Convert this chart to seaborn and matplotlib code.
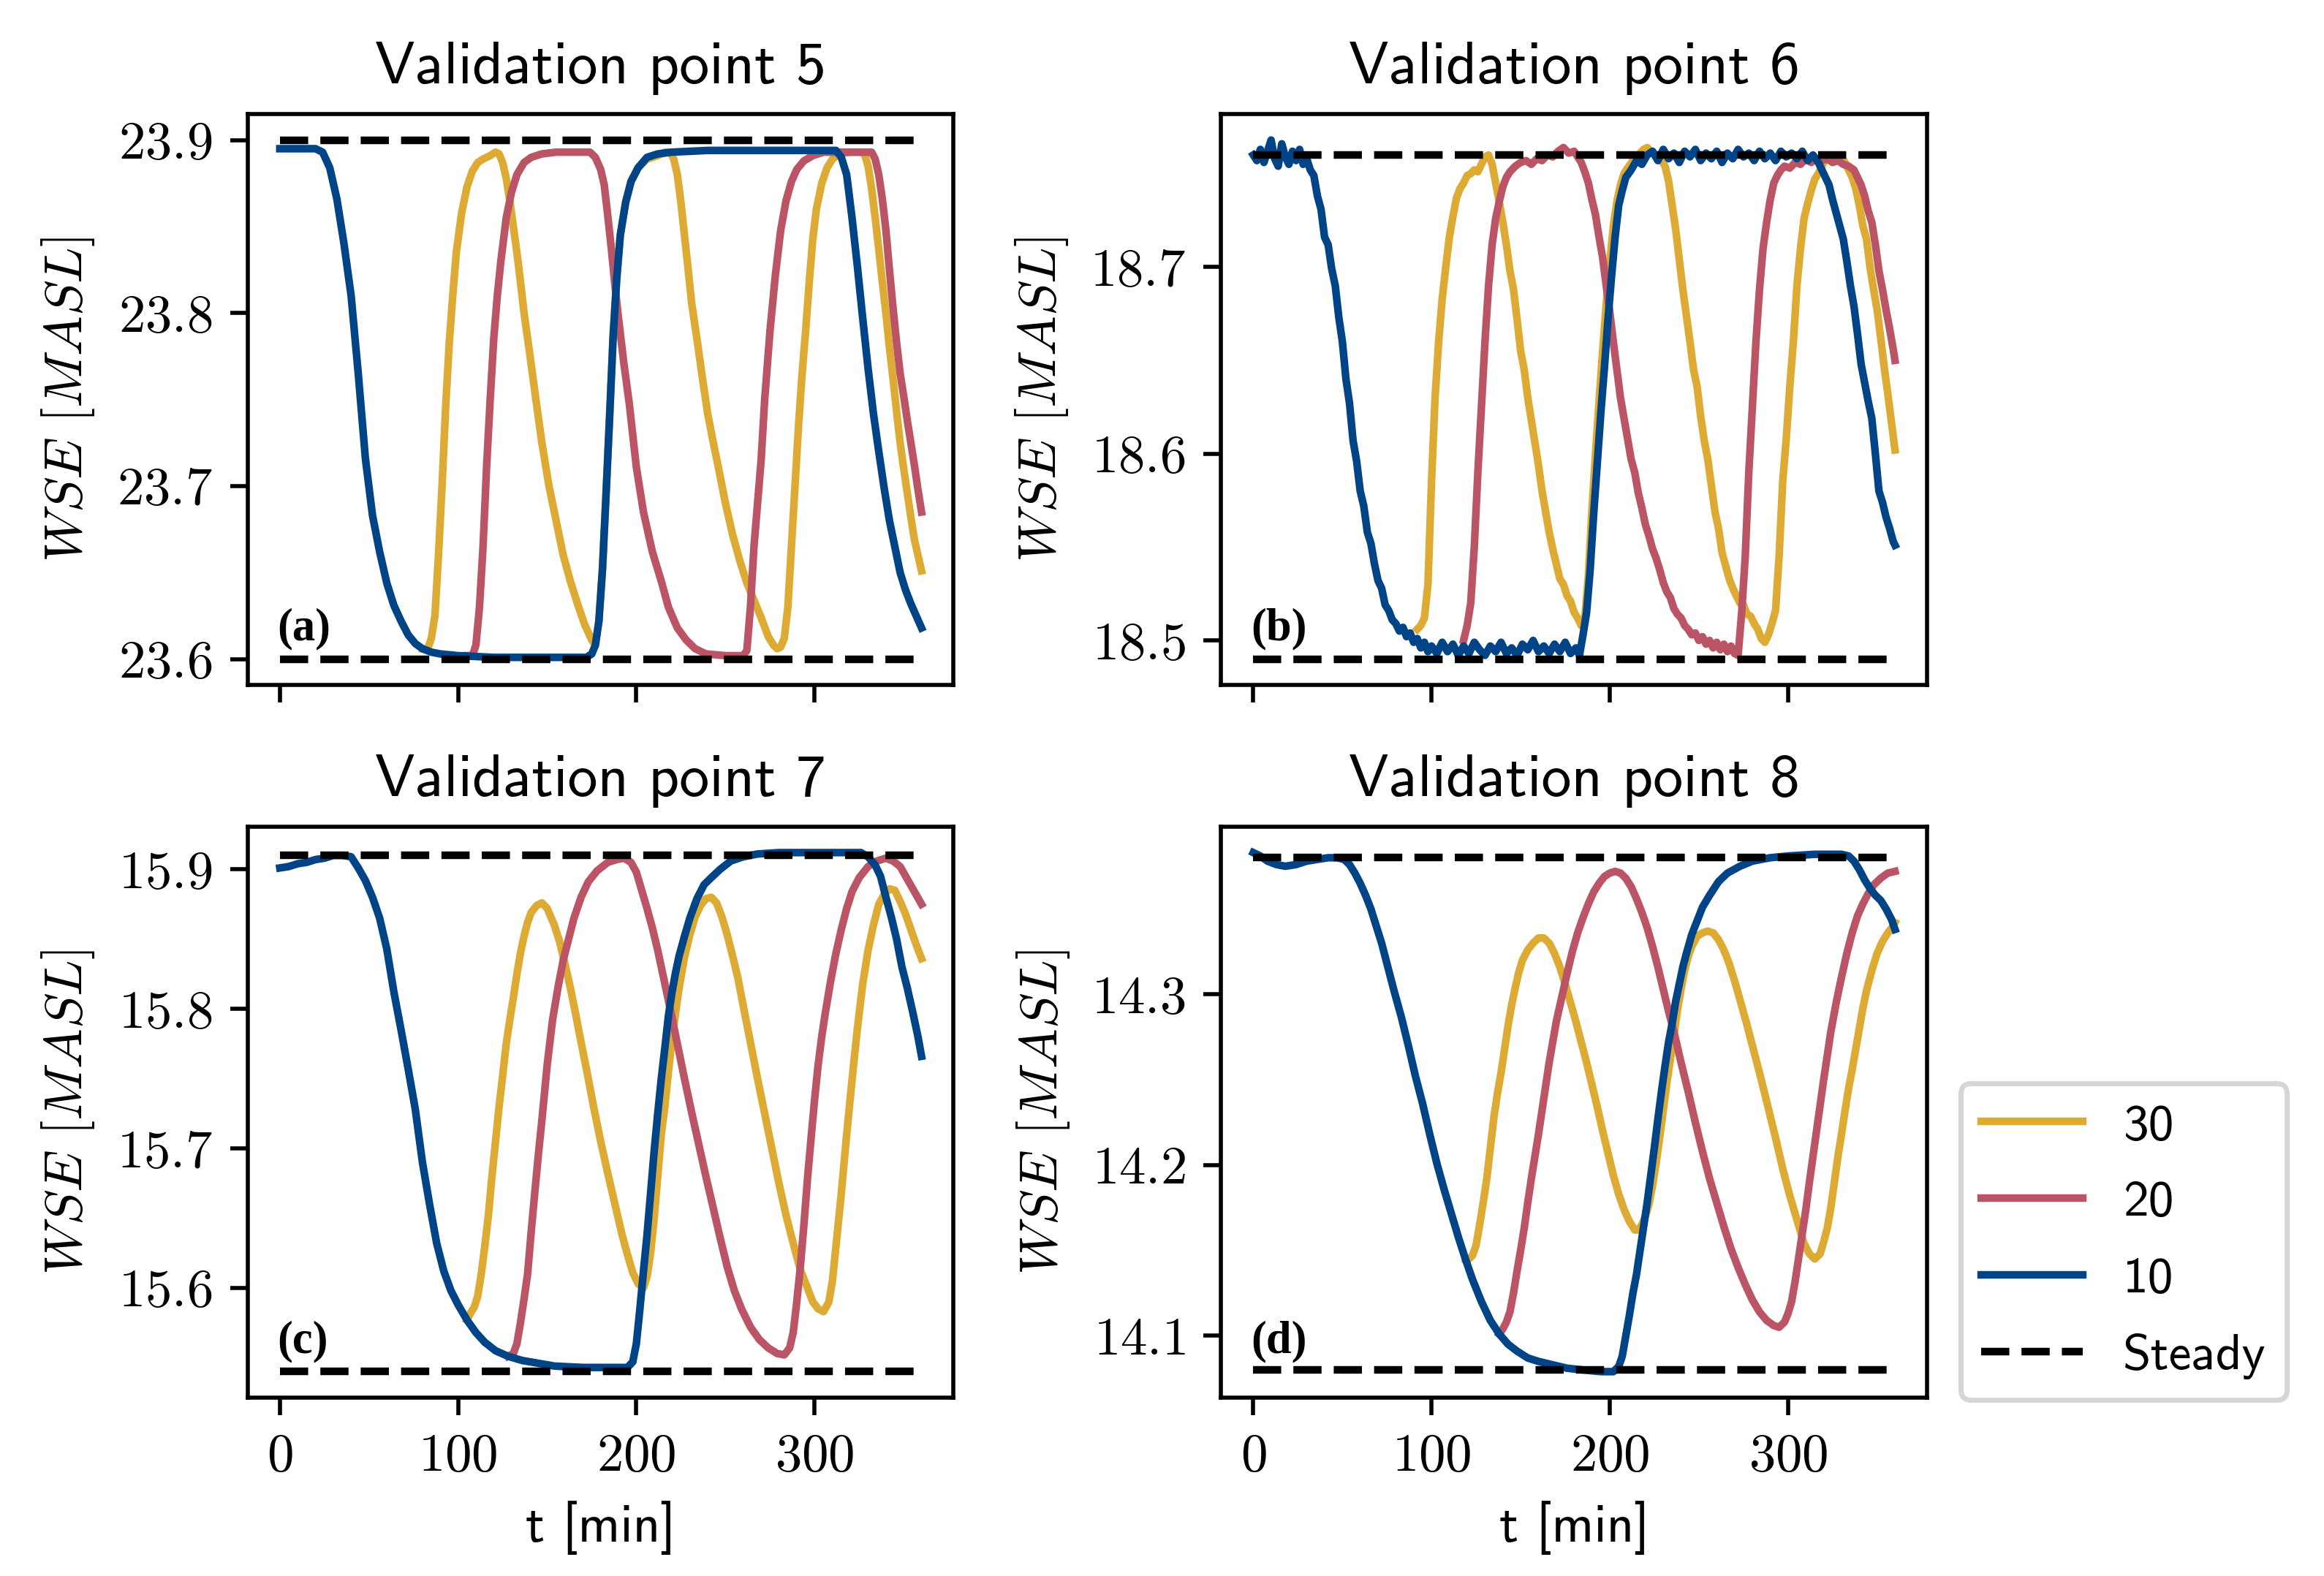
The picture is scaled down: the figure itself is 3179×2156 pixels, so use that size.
import pandas as pd
import seaborn as sns
import matplotlib
matplotlib.use('Agg')
import matplotlib.pyplot as plt
from matplotlib.lines import Line2D
from matplotlib.ticker import MultipleLocator, FuncFormatter

# -----------------------------------------------------------------------------
# Data (t in min, WSE in m above sea level)
# -----------------------------------------------------------------------------
# Validation point 5
a10_t = [0, 10, 20, 24, 28, 32, 36, 40, 44, 48, 52, 56, 60, 64, 68, 72, 76, 80, 85, 90, 100, 120, 150, 172,
         175, 177, 179, 181, 183, 185, 187, 189, 191, 194, 197, 201, 206, 212, 220, 240, 280, 312, 315, 318,
         321, 324, 327, 330, 333, 336, 339, 342, 345, 348, 351, 354, 357, 360]
a10_wse = [23.895, 23.895, 23.895, 23.893, 23.884, 23.866, 23.840, 23.810, 23.765, 23.716, 23.683, 23.662,
           23.644, 23.631, 23.622, 23.614, 23.609, 23.606, 23.604, 23.603, 23.602, 23.601, 23.601, 23.601,
           23.603, 23.608, 23.622, 23.652, 23.695, 23.740, 23.787, 23.820, 23.845, 23.864, 23.876, 23.884,
           23.890, 23.892, 23.893, 23.894, 23.894, 23.894, 23.890, 23.880, 23.855, 23.827, 23.797, 23.768,
           23.742, 23.720, 23.699, 23.680, 23.665, 23.650, 23.640, 23.632, 23.625, 23.618]
a30_t = [80, 83, 85, 87, 89, 91, 93, 95, 97, 99, 102, 105, 108, 111, 114, 118, 121, 123, 125, 127, 129, 131,
         133, 135, 137, 140, 143, 147, 151, 155, 159, 163, 167, 171, 175, 177, 179, 181, 183, 185, 187, 189,
         191, 194, 197, 201, 206, 212, 216, 219, 221, 223, 225, 227, 229, 231, 234, 237, 240, 243, 246, 250,
         254, 258, 262, 266, 270, 274, 277, 279, 281, 283, 285, 287, 289, 291, 293, 295, 297, 299, 301, 304,
         307, 310, 314, 320, 326, 328, 330, 332, 334, 336, 338, 340, 342, 344, 346, 348, 350, 352, 354, 356,
         358, 360]
a30_wse = [23.606, 23.606, 23.612, 23.625, 23.660, 23.700, 23.745, 23.782, 23.810, 23.835, 23.858, 23.873,
           23.882, 23.887, 23.889, 23.891, 23.893, 23.892, 23.887, 23.878, 23.865, 23.850, 23.835, 23.818,
           23.800, 23.778, 23.755, 23.725, 23.700, 23.680, 23.660, 23.645, 23.632, 23.620, 23.611, 23.608,
           23.622, 23.652, 23.695, 23.740, 23.787, 23.820, 23.845, 23.864, 23.876, 23.884, 23.889, 23.891,
           23.893, 23.893, 23.889, 23.880, 23.864, 23.845, 23.826, 23.806, 23.785, 23.763, 23.742, 23.726,
           23.711, 23.690, 23.672, 23.657, 23.644, 23.634, 23.624, 23.613, 23.608, 23.606, 23.607, 23.612,
           23.630, 23.665, 23.700, 23.735, 23.765, 23.790, 23.818, 23.843, 23.860, 23.875, 23.884, 23.889,
           23.892, 23.893, 23.893, 23.892, 23.885, 23.872, 23.855, 23.837, 23.818, 23.800, 23.780, 23.762,
           23.743, 23.725, 23.710, 23.696, 23.682, 23.669, 23.660, 23.651]
a20_t = [105, 108, 110, 112, 114, 116, 118, 120, 122, 124, 127, 130, 133, 137, 141, 147, 155, 165, 174, 177,
         180, 182, 184, 186, 188, 190, 193, 196, 200, 204, 209, 214, 218, 223, 228, 233, 239, 250, 260, 262,
         264, 266, 268, 270, 272, 275, 278, 281, 284, 287, 290, 294, 299, 305, 320, 332, 334, 336, 338, 340,
         342, 344, 346, 348, 350, 352, 354, 356, 358, 360]
a20_wse = [23.602, 23.602, 23.608, 23.630, 23.665, 23.711, 23.750, 23.785, 23.810, 23.830, 23.855, 23.870,
           23.880, 23.887, 23.890, 23.892, 23.893, 23.893, 23.893, 23.890, 23.883, 23.874, 23.856, 23.837,
           23.816, 23.797, 23.771, 23.748, 23.711, 23.685, 23.662, 23.645, 23.630, 23.618, 23.611, 23.606,
           23.603, 23.602, 23.602, 23.605, 23.630, 23.665, 23.690, 23.715, 23.750, 23.790, 23.822, 23.848,
           23.865, 23.876, 23.883, 23.888, 23.891, 23.893, 23.893, 23.893, 23.889, 23.880, 23.866, 23.848,
           23.825, 23.803, 23.783, 23.765, 23.752, 23.738, 23.725, 23.712, 23.698, 23.685]
steady_a = [23.9, 23.6]

# Validation point 6
b10_t = [0, 2, 4, 6, 8, 10, 12, 14, 16, 18, 20, 22, 24, 26, 28, 30, 32, 34, 36, 38, 40, 42, 44, 46, 48, 50,
         52, 54, 56, 58, 60, 62, 64, 66, 68, 70, 72, 74, 76, 78, 80, 82, 84, 86, 88, 90, 92, 94, 96, 98, 100,
         103, 106, 109, 112, 115, 118, 121, 124, 127, 130, 133, 136, 139, 142, 145, 148, 151, 154, 157, 160,
         163, 166, 169, 172, 175, 178, 181, 183, 185, 187, 189, 191, 193, 195, 197, 199, 201, 203, 205, 207,
         209, 212, 215, 218, 221, 224, 227, 230, 233, 236, 239, 242, 245, 248, 251, 254, 257, 260, 263, 266,
         269, 272, 275, 278, 281, 284, 287, 290, 293, 296, 299, 302, 305, 308, 311, 314, 317, 319, 321, 323,
         325, 327, 329, 331, 333, 335, 337, 339, 341, 343, 345, 347, 349, 351, 353, 355, 357, 359, 360]
b10_wse = [18.760, 18.757, 18.763, 18.756, 18.762, 18.768, 18.758, 18.754, 18.766, 18.759, 18.755, 18.762,
           18.757, 18.763, 18.755, 18.758, 18.752, 18.749, 18.738, 18.731, 18.716, 18.712, 18.699, 18.690,
           18.673, 18.660, 18.640, 18.627, 18.607, 18.596, 18.580, 18.572, 18.558, 18.552, 18.541, 18.532,
           18.528, 18.519, 18.516, 18.511, 18.509, 18.505, 18.507, 18.502, 18.504, 18.499, 18.501, 18.496,
           18.499, 18.494, 18.497, 18.493, 18.499, 18.494, 18.498, 18.492, 18.497, 18.493, 18.499, 18.495,
           18.492, 18.497, 18.494, 18.499, 18.493, 18.496, 18.492, 18.498, 18.495, 18.500, 18.494, 18.497,
           18.493, 18.498, 18.494, 18.499, 18.493, 18.496, 18.492, 18.503, 18.515, 18.538, 18.568, 18.595,
           18.622, 18.646, 18.672, 18.695, 18.716, 18.733, 18.741, 18.748, 18.752, 18.757, 18.755, 18.760,
           18.762, 18.757, 18.763, 18.758, 18.761, 18.756, 18.762, 18.759, 18.763, 18.757, 18.761, 18.758,
           18.762, 18.756, 18.761, 18.758, 18.763, 18.759, 18.761, 18.757, 18.762, 18.758, 18.761, 18.757,
           18.762, 18.759, 18.761, 18.758, 18.762, 18.757, 18.760, 18.756, 18.752, 18.748, 18.744, 18.736,
           18.729, 18.722, 18.715, 18.703, 18.690, 18.679, 18.664, 18.648, 18.638, 18.628, 18.619, 18.600,
           18.580, 18.574, 18.566, 18.560, 18.553, 18.551]
b30_t = [92, 94, 96, 98, 100, 102, 104, 106, 108, 110, 112, 114, 116, 118, 120, 122, 124, 126, 128, 130, 132,
         134, 136, 138, 140, 142, 144, 146, 148, 150, 152, 154, 156, 158, 160, 162, 164, 166, 168, 170, 172,
         174, 176, 178, 180, 182, 184, 186, 188, 190, 192, 194, 196, 198, 200, 202, 204, 206, 208, 210, 213,
         216, 219, 221, 223, 225, 227, 229, 231, 233, 235, 237, 239, 241, 243, 245, 247, 249, 251, 253, 255,
         257, 259, 261, 263, 265, 267, 269, 271, 273, 275, 277, 279, 281, 283, 285, 287, 289, 291, 293, 295,
         297, 299, 301, 303, 305, 307, 309, 311, 313, 315, 317, 320, 323, 326, 329, 332, 334, 336, 338, 340,
         342, 344, 346, 348, 350, 352, 354, 356, 358, 360]
b30_wse = [18.506, 18.508, 18.512, 18.530, 18.585, 18.630, 18.660, 18.683, 18.700, 18.716, 18.727, 18.737,
           18.742, 18.745, 18.749, 18.750, 18.752, 18.751, 18.755, 18.759, 18.760, 18.755, 18.745, 18.735,
           18.724, 18.712, 18.698, 18.688, 18.672, 18.655, 18.645, 18.630, 18.618, 18.606, 18.594, 18.580,
           18.569, 18.558, 18.549, 18.541, 18.533, 18.530, 18.524, 18.521, 18.515, 18.512, 18.508, 18.512,
           18.535, 18.570, 18.600, 18.628, 18.655, 18.680, 18.702, 18.722, 18.735, 18.744, 18.750, 18.753,
           18.757, 18.760, 18.763, 18.764, 18.762, 18.760, 18.759, 18.757, 18.754, 18.746, 18.733, 18.720,
           18.704, 18.688, 18.674, 18.660, 18.645, 18.636, 18.620, 18.607, 18.597, 18.583, 18.569, 18.560,
           18.547, 18.540, 18.533, 18.528, 18.524, 18.520, 18.519, 18.514, 18.513, 18.509, 18.506, 18.501,
           18.499, 18.503, 18.509, 18.516, 18.545, 18.585, 18.608, 18.636, 18.660, 18.690, 18.710, 18.726,
           18.734, 18.741, 18.747, 18.750, 18.756, 18.759, 18.758, 18.760, 18.756, 18.752, 18.748, 18.742,
           18.733, 18.722, 18.715, 18.700, 18.688, 18.677, 18.662, 18.646, 18.632, 18.617, 18.602]
b20_t = [118, 120, 122, 124, 126, 128, 130, 132, 134, 136, 138, 140, 142, 144, 147, 150, 153, 156, 159, 162,
         165, 168, 171, 174, 177, 180, 182, 184, 186, 188, 190, 192, 194, 196, 198, 200, 202, 204, 206, 208,
         210, 212, 214, 216, 218, 220, 222, 224, 226, 228, 230, 232, 234, 236, 238, 240, 242, 244, 246, 248,
         250, 252, 254, 256, 258, 260, 262, 264, 266, 268, 270, 272, 274, 276, 278, 280, 282, 284, 286, 288,
         290, 292, 294, 296, 298, 301, 304, 307, 310, 313, 316, 319, 322, 325, 328, 331, 334, 337, 339, 341,
         343, 345, 347, 349, 351, 353, 355, 357, 359, 360]
b20_wse = [18.500, 18.508, 18.520, 18.550, 18.590, 18.625, 18.660, 18.690, 18.712, 18.726, 18.735, 18.743,
           18.748, 18.751, 18.754, 18.756, 18.757, 18.755, 18.758, 18.757, 18.760, 18.759, 18.762, 18.764,
           18.761, 18.762, 18.759, 18.756, 18.751, 18.745, 18.736, 18.728, 18.716, 18.705, 18.690, 18.676,
           18.660, 18.645, 18.630, 18.619, 18.608, 18.597, 18.590, 18.579, 18.571, 18.562, 18.556, 18.549,
           18.544, 18.538, 18.531, 18.526, 18.523, 18.517, 18.514, 18.512, 18.508, 18.506, 18.503, 18.504,
           18.500, 18.502, 18.498, 18.500, 18.496, 18.499, 18.495, 18.498, 18.494, 18.497, 18.493, 18.492,
           18.515, 18.545, 18.590, 18.625, 18.660, 18.688, 18.710, 18.724, 18.736, 18.745, 18.749, 18.752,
           18.754, 18.753, 18.756, 18.755, 18.758, 18.756, 18.758, 18.757, 18.758, 18.756, 18.757, 18.755,
           18.754, 18.752, 18.748, 18.744, 18.738, 18.730, 18.724, 18.712, 18.698, 18.688, 18.677, 18.667,
           18.656, 18.650]
steady_b = [18.76, 18.49]

# Validation point 7
c10_t = [0, 5, 10, 15, 20, 25, 30, 35, 40, 44, 48, 52, 56, 60, 64, 68, 72, 76, 80, 84, 88, 92, 96, 100, 105,
         110, 115, 121, 128, 136, 145, 154, 170, 185, 195, 198, 200, 202, 204, 206, 208, 210, 212, 214, 216,
         218, 220, 222, 224, 227, 230, 234, 238, 242, 247, 253, 260, 268, 280, 300, 319, 326, 330, 334, 337,
         340, 343, 346, 349, 352, 355, 358, 360]
c10_wse = [15.901, 15.902, 15.904, 15.905, 15.907, 15.908, 15.910, 15.910, 15.909, 15.901, 15.892, 15.880,
           15.865, 15.843, 15.812, 15.785, 15.757, 15.728, 15.690, 15.660, 15.632, 15.612, 15.598, 15.588,
           15.577, 15.568, 15.561, 15.555, 15.551, 15.548, 15.546, 15.544, 15.543, 15.543, 15.543, 15.547,
           15.560, 15.585, 15.612, 15.638, 15.668, 15.698, 15.725, 15.750, 15.772, 15.795, 15.812, 15.826,
           15.838, 15.852, 15.865, 15.879, 15.889, 15.894, 15.900, 15.906, 15.909, 15.911, 15.912, 15.912,
           15.912, 15.912, 15.909, 15.903, 15.895, 15.880, 15.866, 15.850, 15.830, 15.815, 15.798, 15.780,
           15.766]
c30_t = [105, 107, 109, 111, 113, 115, 117, 119, 121, 123, 125, 127, 129, 131, 133, 135, 137, 139, 141, 144,
         147, 150, 152, 154, 157, 160, 163, 166, 169, 172, 176, 180, 184, 188, 192, 195, 198, 201, 204, 206,
         208, 210, 212, 214, 216, 218, 220, 222, 224, 227, 230, 233, 236, 239, 242, 245, 248, 251, 254, 257,
         260, 264, 268, 272, 276, 280, 284, 288, 292, 296, 299, 302, 305, 308, 310, 312, 315, 318, 321, 324,
         327, 330, 333, 336, 339, 342, 345, 348, 351, 354, 357, 360]
c30_wse = [15.577, 15.582, 15.586, 15.594, 15.610, 15.630, 15.652, 15.680, 15.705, 15.730, 15.752, 15.775,
           15.792, 15.808, 15.825, 15.840, 15.852, 15.862, 15.869, 15.874, 15.876, 15.872, 15.866, 15.860,
           15.848, 15.832, 15.815, 15.796, 15.776, 15.757, 15.730, 15.705, 15.682, 15.660, 15.638, 15.624,
           15.611, 15.603, 15.600, 15.608, 15.625, 15.650, 15.680, 15.710, 15.730, 15.755, 15.778, 15.797,
           15.815, 15.837, 15.853, 15.866, 15.874, 15.879, 15.880, 15.876, 15.866, 15.853, 15.838, 15.822,
           15.802, 15.776, 15.750, 15.725, 15.700, 15.675, 15.652, 15.632, 15.613, 15.600, 15.590, 15.585,
           15.583, 15.590, 15.605, 15.630, 15.668, 15.710, 15.749, 15.786, 15.818, 15.842, 15.860, 15.875,
           15.882, 15.886, 15.885, 15.877, 15.868, 15.857, 15.846, 15.836]
c20_t = [128, 131, 133, 135, 137, 139, 141, 143, 145, 147, 150, 153, 156, 159, 162, 165, 169, 173, 178, 184,
         189, 193, 197, 200, 203, 206, 209, 212, 215, 219, 223, 227, 231, 235, 239, 243, 247, 251, 255, 259,
         264, 269, 274, 279, 283, 286, 288, 290, 292, 294, 296, 298, 300, 302, 304, 306, 309, 312, 315, 318,
         321, 325, 330, 335, 340, 344, 348, 352, 356, 360]
c20_wse = [15.551, 15.553, 15.560, 15.575, 15.592, 15.610, 15.640, 15.668, 15.695, 15.720, 15.760, 15.792,
           15.815, 15.835, 15.850, 15.865, 15.880, 15.891, 15.899, 15.905, 15.907, 15.908, 15.905, 15.898,
           15.885, 15.872, 15.858, 15.842, 15.824, 15.800, 15.775, 15.750, 15.726, 15.703, 15.680, 15.658,
           15.636, 15.615, 15.598, 15.585, 15.572, 15.563, 15.557, 15.553, 15.552, 15.557, 15.568, 15.590,
           15.615, 15.645, 15.678, 15.707, 15.735, 15.760, 15.780, 15.797, 15.820, 15.840, 15.857, 15.872,
           15.884, 15.894, 15.902, 15.906, 15.908, 15.906, 15.902, 15.893, 15.884, 15.875]
steady_c = [15.91, 15.54]

# Validation point 8
d10_t = [0, 4, 8, 13, 18, 24, 30, 36, 42, 47, 51, 54, 57, 60, 63, 66, 69, 72, 75, 79, 83, 87, 91, 95, 99, 103,
         107, 111, 115, 119, 123, 128, 133, 138, 143, 148, 154, 160, 168, 176, 185, 195, 202, 205, 207, 209,
         211, 213, 215, 217, 219, 221, 223, 225, 227, 229, 231, 233, 235, 237, 239, 241, 243, 246, 249, 252,
         256, 261, 266, 273, 280, 290, 300, 315, 330, 334, 337, 340, 343, 346, 349, 352, 355, 358, 360]
d10_wse = [14.383, 14.381, 14.378, 14.376, 14.375, 14.376, 14.378, 14.379, 14.380, 14.380, 14.379, 14.376,
           14.371, 14.365, 14.358, 14.350, 14.340, 14.330, 14.318, 14.302, 14.287, 14.270, 14.252, 14.236,
           14.218, 14.201, 14.186, 14.172, 14.158, 14.145, 14.133, 14.120, 14.109, 14.101, 14.095, 14.091,
           14.087, 14.085, 14.083, 14.081, 14.080, 14.079, 14.079, 14.082, 14.088, 14.100, 14.112, 14.125,
           14.136, 14.150, 14.164, 14.178, 14.194, 14.210, 14.227, 14.243, 14.258, 14.272, 14.283, 14.296,
           14.306, 14.316, 14.324, 14.335, 14.343, 14.351, 14.358, 14.366, 14.371, 14.375, 14.378, 14.380,
           14.381, 14.382, 14.382, 14.381, 14.378, 14.373, 14.367, 14.362, 14.358, 14.355, 14.350, 14.344,
           14.338]
d30_t = [119, 121, 123, 125, 127, 129, 131, 133, 135, 137, 139, 141, 143, 145, 147, 149, 151, 154, 157, 160,
         163, 166, 169, 172, 175, 178, 181, 184, 187, 190, 193, 196, 199, 202, 205, 208, 211, 214, 216, 218,
         220, 222, 224, 226, 228, 230, 232, 234, 236, 238, 240, 242, 244, 246, 249, 252, 255, 258, 261, 264,
         267, 270, 273, 277, 281, 285, 289, 293, 297, 301, 305, 309, 312, 315, 318, 320, 322, 324, 326, 328,
         330, 332, 334, 336, 338, 340, 342, 344, 347, 350, 353, 356, 359, 360]
d30_wse = [14.145, 14.145, 14.147, 14.153, 14.165, 14.178, 14.192, 14.210, 14.228, 14.242, 14.254, 14.268,
           14.282, 14.294, 14.304, 14.313, 14.320, 14.326, 14.330, 14.333, 14.333, 14.330, 14.324, 14.316,
           14.306, 14.295, 14.284, 14.272, 14.260, 14.247, 14.234, 14.220, 14.207, 14.194, 14.183, 14.174,
           14.167, 14.162, 14.162, 14.165, 14.170, 14.177, 14.188, 14.201, 14.216, 14.232, 14.248, 14.262,
           14.276, 14.291, 14.303, 14.314, 14.322, 14.328, 14.334, 14.336, 14.337, 14.336, 14.332, 14.326,
           14.318, 14.308, 14.297, 14.282, 14.266, 14.250, 14.233, 14.216, 14.198, 14.182, 14.168, 14.154,
           14.148, 14.145, 14.148, 14.155, 14.163, 14.175, 14.190, 14.205, 14.218, 14.232, 14.245, 14.256,
           14.268, 14.280, 14.292, 14.302, 14.314, 14.324, 14.331, 14.336, 14.340, 14.342]
d20_t = [138, 140, 142, 144, 146, 148, 150, 152, 154, 156, 158, 160, 162, 164, 166, 168, 170, 173, 176, 179,
         182, 185, 188, 191, 194, 197, 200, 203, 206, 209, 212, 215, 218, 221, 224, 227, 230, 233, 236, 240,
         244, 248, 252, 256, 260, 264, 268, 272, 276, 280, 284, 288, 292, 295, 298, 300, 302, 304, 306, 308,
         310, 312, 314, 316, 318, 320, 322, 324, 327, 330, 333, 336, 339, 342, 345, 348, 352, 356, 360]
d20_wse = [14.101, 14.104, 14.108, 14.114, 14.125, 14.138, 14.150, 14.163, 14.178, 14.192, 14.205, 14.218,
           14.232, 14.246, 14.260, 14.272, 14.284, 14.298, 14.312, 14.325, 14.336, 14.345, 14.353, 14.360,
           14.365, 14.369, 14.371, 14.372, 14.371, 14.368, 14.363, 14.356, 14.348, 14.339, 14.328, 14.316,
           14.303, 14.290, 14.278, 14.260, 14.243, 14.225, 14.208, 14.192, 14.178, 14.164, 14.151, 14.140,
           14.130, 14.121, 14.114, 14.109, 14.106, 14.105, 14.108, 14.113, 14.120, 14.132, 14.146, 14.160,
           14.174, 14.190, 14.205, 14.220, 14.235, 14.250, 14.264, 14.278, 14.295, 14.310, 14.324, 14.336,
           14.346, 14.353, 14.359, 14.364, 14.368, 14.371, 14.372]
steady_d = [14.38, 14.08]

titles = ['Validation point 5', 'Validation point 6', 'Validation point 7', 'Validation point 8']
tags = ['(a)', '(b)', '(c)', '(d)']
cases = ['30', '20', '10']
colors = {'30': '#DDAA33', '20': '#BB5566', '10': '#004488'}

# -----------------------------------------------------------------------------
# Style
# -----------------------------------------------------------------------------
plt.rcParams['font.family'] = ['cmss10', 'DejaVu Sans']
plt.rcParams['mathtext.fontset'] = 'cm'
plt.rcParams['axes.unicode_minus'] = False
plt.rcParams['font.size'] = 10

fig, axes = plt.subplots(2, 2, figsize=(3179 / 500, 2156 / 500), dpi=500, sharex=True)
fig.subplots_adjust(left=0.1066, right=0.8292, bottom=0.1132, top=0.9276, wspace=0.379, hspace=0.248)

panel_series = [
    [(a30_t, a30_wse), (a20_t, a20_wse), (a10_t, a10_wse)],
    [(b30_t, b30_wse), (b20_t, b20_wse), (b10_t, b10_wse)],
    [(c30_t, c30_wse), (c20_t, c20_wse), (c10_t, c10_wse)],
    [(d30_t, d30_wse), (d20_t, d20_wse), (d10_t, d10_wse)],
]
steady_levels = [steady_a, steady_b, steady_c, steady_d]

for i, ax in enumerate(axes.flat):
    # long-form table for this panel
    frames = []
    for case, (t, w) in zip(cases, panel_series[i]):
        frames.append(pd.DataFrame({'t': t, 'wse': w, 'case': case}))
    df = pd.concat(frames, ignore_index=True)

    sns.lineplot(data=df, x='t', y='wse', hue='case', hue_order=cases, palette=colors,
                 estimator=None, lw=1.5, legend=False, ax=ax)

    # steady-state levels over the simulated period
    t0, t1 = df['t'].min(), df['t'].max()
    for lvl in steady_levels[i]:
        sns.lineplot(x=[t0, t1], y=[lvl, lvl], color='k', ls='--', lw=1.5, ax=ax)

    ax.set_title(titles[i], fontsize=11.8)
    ax.set_ylabel(r'$WSE$ $[MASL]$', fontsize=10.5)
    ax.set_xlabel('t [min]' if i >= 2 else '', fontsize=10.5)
    ax.xaxis.set_major_locator(MultipleLocator(100))
    ax.yaxis.set_major_locator(MultipleLocator(0.1))
    ax.xaxis.set_major_formatter(FuncFormatter(lambda v, p: f'${v:.0f}$'))
    ax.yaxis.set_major_formatter(FuncFormatter(lambda v, p: f'${v:.1f}$'))
    ax.tick_params(labelsize=10.5)
    ax.text(0.042, 0.079, tags[i], transform=ax.transAxes, family='Liberation Serif',
            fontweight='bold', fontsize=9, ha='left', va='baseline')

handles = [Line2D([], [], color=colors[c], lw=1.5) for c in cases]
handles.append(Line2D([], [], color='k', ls='--', lw=1.5))
fig.legend(handles, cases + ['Steady'], loc='lower left', bbox_to_anchor=(0.8437, 0.1118),
           borderaxespad=0, fontsize=10, labelspacing=0.62)

fig.savefig('out.png', dpi=500)
